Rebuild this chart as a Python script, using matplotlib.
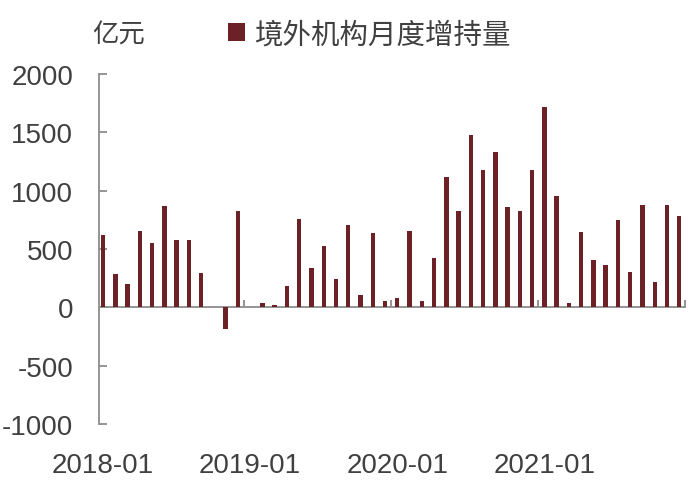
import numpy as np
import matplotlib.pyplot as plt

plt.rcParams['font.family'] = ['Liberation Sans', 'Noto Sans CJK SC']
plt.rcParams['axes.unicode_minus'] = False

# 境外机构月度增持量（亿元），2018-01 ~ 2021-12
months = [f'{y}-{m:02d}' for y in range(2018, 2022) for m in range(1, 13)]
values = [623, 286, 197, 657, 549, 869, 574, 574, 297, 0, -186, 823,
          0, 34, 20, 180, 757, 337, 523, 246, 703, 106, 640, 54,
          80, 654, 54, 426, 1114, 823, 1474, 1174, 1334, 863, 829, 1180,
          1714, 951, 34, 643, 406, 360, 749, 300, 880, 220, 874, 780]
tick_labels = ['2018-01', '2019-01', '2020-01', '2021-01']
series_name = '境外机构月度增持量'
unit = '亿元'

bar_color = '#6b2125'
axis_color = '#8c8c8c'
text_color = '#404040'

x = np.arange(len(months))

fig = plt.figure(figsize=(7, 4.85), dpi=100)
ax = fig.add_axes([99/700, 1-425/485, 587/700, 350/485])

ax.bar(x, values, width=0.36, color=bar_color, label=series_name, zorder=3)

ax.set_xlim(-0.33, 47.55)
ax.set_ylim(-1000, 2000)
ax.set_yticks(np.arange(-1000, 2001, 500))

# 零轴与年度分隔刻度
ax.axhline(0, color=axis_color, linewidth=1.3, zorder=2)
year_start = [months.index(t) for t in tick_labels]
bounds = [i - 0.5 for i in year_start[1:]] + [len(months) - 0.5]
ax.vlines(bounds, 0, 65, color=axis_color, linewidth=1.3, zorder=2)

ax.set_xticks(year_start)
ax.set_xticklabels(tick_labels)

for s in ['top', 'right', 'bottom']:
    ax.spines[s].set_visible(False)
ax.spines['left'].set_color(axis_color)
ax.spines['left'].set_linewidth(1.3)

ax.tick_params(axis='y', direction='in', length=6, width=1.3, color=axis_color,
               labelsize=20, labelcolor=text_color, pad=18.5)
ax.tick_params(axis='x', length=0, labelsize=20, labelcolor=text_color, pad=20)

fig.text(92/700, 1-36/485, unit, fontsize=19, color=text_color, ha='left', va='center')
fig.legend(loc='center left', bbox_to_anchor=(228/700, 1-36/485), frameon=False,
           handlelength=0.6, handleheight=0.6, handletextpad=0.3, borderpad=0,
           borderaxespad=0, prop={'size': 20.5}, labelcolor=text_color)

fig.savefig('out.png', dpi=100)
